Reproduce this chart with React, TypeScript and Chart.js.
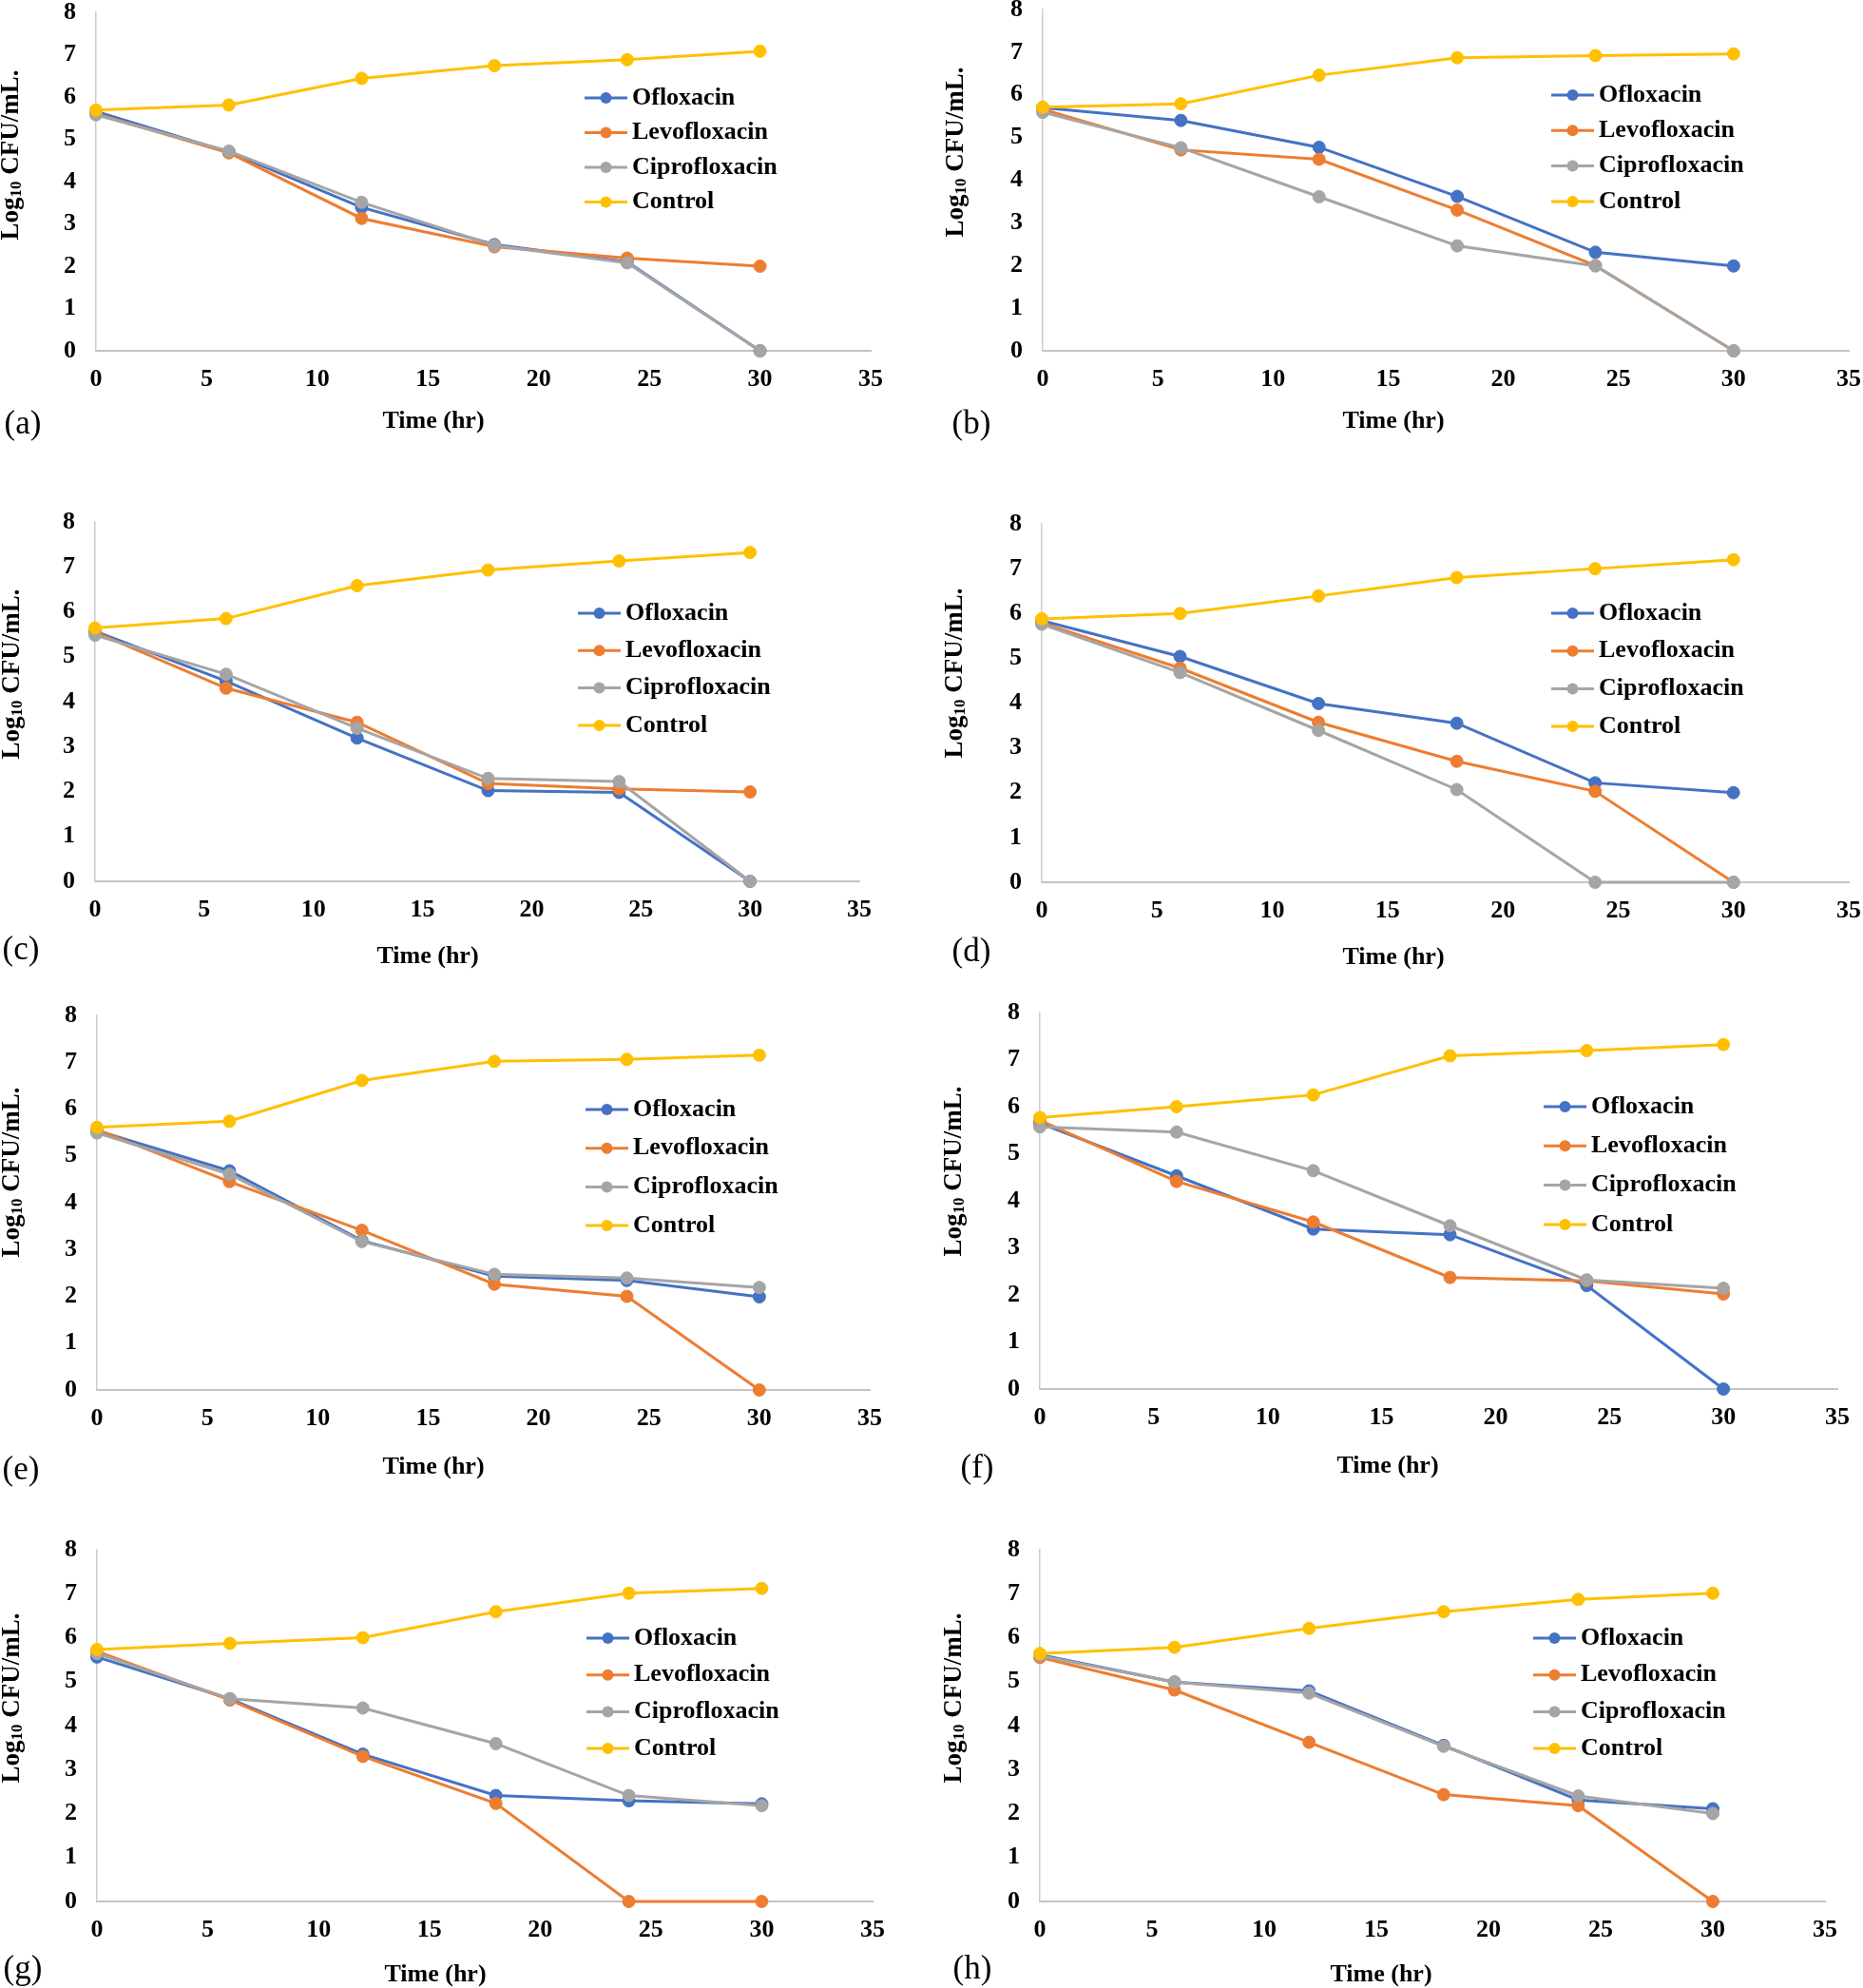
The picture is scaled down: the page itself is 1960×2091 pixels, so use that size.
import React, { useEffect, useRef } from "react";
import { Chart, registerables } from "chart.js";
Chart.register(...registerables);

// ---------- data ----------
const times = [0, 6, 12, 18, 24, 30];
const seriesNames = ["Ofloxacin", "Levofloxacin", "Ciprofloxacin", "Control"];
const seriesColors = ["#4472C4", "#ED7D31", "#A5A5A5", "#FFC000"];
const panelLabels = ["(a)", "(b)", "(c)", "(d)", "(e)", "(f)", "(g)", "(h)"];
const xAxisTitle = "Time (hr)";
const xMin = 0, xMax = 35, xStep = 5;
const yMin = 0, yMax = 8, yStep = 1;

const a_oflox = [5.66, 4.70, 3.39, 2.51, 2.10, 0];
const a_levo = [5.60, 4.68, 3.13, 2.46, 2.19, 2.00];
const a_cipro = [5.58, 4.72, 3.51, 2.49, 2.08, 0];
const a_ctrl = [5.69, 5.81, 6.44, 6.74, 6.88, 7.08];

const b_oflox = [5.70, 5.40, 4.77, 3.62, 2.31, 1.99];
const b_levo = [5.66, 4.71, 4.49, 3.30, 2.00, 0];
const b_cipro = [5.59, 4.76, 3.61, 2.46, 1.99, 0];
const b_ctrl = [5.71, 5.79, 6.46, 6.87, 6.92, 6.96];

const c_oflox = [5.57, 4.46, 3.19, 2.02, 1.98, 0];
const c_levo = [5.55, 4.30, 3.54, 2.18, 2.06, 1.99];
const c_cipro = [5.48, 4.61, 3.41, 2.29, 2.22, 0];
const c_ctrl = [5.64, 5.85, 6.58, 6.93, 7.13, 7.32];

const d_oflox = [5.84, 5.04, 3.99, 3.55, 2.22, 2.00];
const d_levo = [5.79, 4.78, 3.57, 2.70, 2.03, 0];
const d_cipro = [5.76, 4.68, 3.39, 2.07, 0, 0];
const d_ctrl = [5.88, 6.00, 6.39, 6.80, 7.00, 7.20];

const e_oflox = [5.54, 4.68, 3.19, 2.43, 2.34, 1.99];
const e_levo = [5.56, 4.45, 3.41, 2.26, 2.00, 0];
const e_cipro = [5.49, 4.61, 3.17, 2.47, 2.39, 2.19];
const e_ctrl = [5.61, 5.74, 6.61, 7.02, 7.06, 7.15];

const f_oflox = [5.65, 4.53, 3.40, 3.28, 2.20, 0];
const f_levo = [5.71, 4.41, 3.55, 2.37, 2.30, 2.02];
const f_cipro = [5.57, 5.46, 4.64, 3.47, 2.32, 2.14];
const f_ctrl = [5.77, 6.00, 6.25, 7.08, 7.19, 7.32];

const g_oflox = [5.56, 4.61, 3.35, 2.41, 2.29, 2.22];
const g_levo = [5.69, 4.58, 3.30, 2.23, 0, 0];
const g_cipro = [5.64, 4.61, 4.40, 3.59, 2.41, 2.18];
const g_ctrl = [5.73, 5.87, 6.00, 6.59, 7.01, 7.12];

const h_oflox = [5.61, 4.99, 4.79, 3.55, 2.31, 2.11];
const h_levo = [5.55, 4.81, 3.62, 2.43, 2.18, 0];
const h_cipro = [5.59, 4.99, 4.74, 3.53, 2.40, 2.00];
const h_ctrl = [5.64, 5.78, 6.21, 6.59, 6.87, 7.01];

const panelSeries = [
  [a_oflox, a_levo, a_cipro, a_ctrl],
  [b_oflox, b_levo, b_cipro, b_ctrl],
  [c_oflox, c_levo, c_cipro, c_ctrl],
  [d_oflox, d_levo, d_cipro, d_ctrl],
  [e_oflox, e_levo, e_cipro, e_ctrl],
  [f_oflox, f_levo, f_cipro, f_ctrl],
  [g_oflox, g_levo, g_cipro, g_ctrl],
  [h_oflox, h_levo, h_cipro, h_ctrl],
];

// ---------- layout (page pixels) ----------
type Cell = {
  cx: number; cy: number; cw: number; ch: number;
  plot: [number, number, number, number]; // left, right, top, bottom
  lab: [number, number]; tt: [number, number]; yt: [number, number];
  leg: [number, number, number];
};
const cells: Cell[] = [
  { cx: 0, cy: 0, cw: 980, ch: 490, plot: [101, 916, 13, 369], lab: [24, 447], tt: [456, 443], yt: [12, 163], leg: [615, 103, 36.5] },
  { cx: 980, cy: 0, cw: 980, ch: 490, plot: [1097, 1945, 10, 369], lab: [1022, 447], tt: [1466, 443], yt: [1006, 160], leg: [1632, 100, 37.3] },
  { cx: 0, cy: 490, cw: 980, ch: 540, plot: [100, 904, 549, 927], lab: [22, 1000], tt: [450, 1006], yt: [13, 709], leg: [608, 645, 39.3] },
  { cx: 980, cy: 490, cw: 980, ch: 540, plot: [1096, 1945, 551, 928], lab: [1022, 1002], tt: [1466, 1007], yt: [1005, 708], leg: [1632, 645, 39.7] },
  { cx: 0, cy: 1030, cw: 980, ch: 550, plot: [102, 915, 1068, 1462], lab: [22, 1547], tt: [456, 1543], yt: [13, 1233], leg: [616, 1167, 40.7] },
  { cx: 980, cy: 1030, cw: 980, ch: 550, plot: [1094, 1933, 1065, 1461], lab: [1028, 1545], tt: [1460, 1542], yt: [1004, 1232], leg: [1624, 1164, 41.3] },
  { cx: 0, cy: 1580, cw: 980, ch: 511, plot: [102, 918, 1630, 2000], lab: [24, 2072], tt: [458, 2077], yt: [13, 1786], leg: [617, 1723, 38.7] },
  { cx: 980, cy: 1580, cw: 980, ch: 511, plot: [1094, 1920, 1630, 2000], lab: [1023, 2072], tt: [1453, 2077], yt: [1004, 1786], leg: [1613, 1723, 38.7] },
];

const SERIF = '"Liberation Serif", "Times New Roman", serif';
const YW = 60;
const XH = 60;

function decorPlugin(cell: Cell, label: string) {
  return {
    id: "decor",
    afterDraw(chart: any) {
      const ctx = chart.ctx as CanvasRenderingContext2D;
      const ox = cell.cx, oy = cell.cy;
      ctx.save();
      ctx.fillStyle = "#000";
      // panel label
      ctx.font = `35px ${SERIF}`;
      ctx.textAlign = "center";
      ctx.textBaseline = "middle";
      ctx.fillText(label, cell.lab[0] - ox, cell.lab[1] - oy);
      // x title
      ctx.font = `bold 26px ${SERIF}`;
      ctx.fillText(xAxisTitle, cell.tt[0] - ox, cell.tt[1] - oy);
      // y title with subscript
      ctx.save();
      ctx.translate(cell.yt[0] - ox, cell.yt[1] - oy);
      ctx.rotate(-Math.PI / 2);
      const main = `bold 27px ${SERIF}`;
      const sub = `bold 17px ${SERIF}`;
      ctx.textAlign = "left";
      ctx.textBaseline = "middle";
      ctx.font = main;
      const w1 = ctx.measureText("Log").width;
      const w3 = ctx.measureText(" CFU/mL.").width;
      ctx.font = sub;
      const w2 = ctx.measureText("10").width;
      let x = -(w1 + w2 + w3) / 2;
      ctx.font = main;
      ctx.fillText("Log", x, 0);
      x += w1;
      ctx.font = sub;
      ctx.fillText("10", x, 6);
      x += w2;
      ctx.font = main;
      ctx.fillText(" CFU/mL.", x, 0);
      ctx.restore();
      // legend
      const [lx, ly, sp] = cell.leg;
      for (let i = 0; i < seriesNames.length; i++) {
        const y = ly + i * sp - oy;
        const x0 = lx - ox;
        ctx.strokeStyle = seriesColors[i];
        ctx.lineWidth = 3;
        ctx.beginPath();
        ctx.moveTo(x0, y);
        ctx.lineTo(x0 + 45, y);
        ctx.stroke();
        ctx.fillStyle = seriesColors[i];
        ctx.beginPath();
        ctx.arc(x0 + 22.5, y, 6, 0, Math.PI * 2);
        ctx.fill();
        ctx.fillStyle = "#000";
        ctx.font = `bold 26px ${SERIF}`;
        ctx.textAlign = "left";
        ctx.textBaseline = "middle";
        ctx.fillText(seriesNames[i], x0 + 50, y);
      }
      ctx.restore();
    },
  };
}

function Panel({ idx }: { idx: number }) {
  const ref = useRef<HTMLCanvasElement | null>(null);
  const cell = cells[idx];
  useEffect(() => {
    if (!ref.current) return;
    const [pl, pr, pt, pb] = cell.plot;
    const series = panelSeries[idx];
    const datasets = series.map((vals, i) => ({
      label: seriesNames[i],
      data: times.map((t, j) => ({ x: t, y: vals[j] })),
      borderColor: seriesColors[i],
      backgroundColor: seriesColors[i],
      borderWidth: 3,
      pointRadius: 6.5,
      pointHoverRadius: 6.5,
      pointBorderWidth: 1,
      pointBackgroundColor: seriesColors[i],
      pointBorderColor: seriesColors[i],
      tension: 0,
      clip: false as any,
      order: seriesNames.length - i,
    }));
    const tickFont = { family: SERIF, size: 26, weight: "bold" as any };
    const zeroPad = (s: any) => {
      s.paddingLeft = 0; s.paddingRight = 0; s.paddingTop = 0; s.paddingBottom = 0;
    };
    const chart = new Chart(ref.current, {
      type: "line",
      data: { datasets },
      plugins: [decorPlugin(cell, panelLabels[idx])],
      options: {
        responsive: false,
        maintainAspectRatio: false,
        animation: false,
        events: [],
        layout: {
          padding: {
            left: pl - cell.cx - YW,
            right: cell.cx + cell.cw - pr,
            top: pt - cell.cy,
            bottom: cell.cy + cell.ch - pb - XH,
          },
        },
        plugins: { legend: { display: false }, tooltip: { enabled: false }, title: { display: false } },
        scales: {
          x: {
            type: "linear",
            min: xMin,
            max: xMax,
            ticks: { stepSize: xStep, font: tickFont, color: "#000", padding: 15, maxRotation: 0, autoSkip: false },
            grid: { display: false, drawTicks: false },
            border: { display: true, color: "#c4c4c4", width: 2 },
            afterFit: (s: any) => { s.height = XH; zeroPad(s); },
          },
          y: {
            type: "linear",
            min: yMin,
            max: yMax,
            ticks: { stepSize: yStep, font: tickFont, color: "#000", padding: 21 },
            grid: { display: false, drawTicks: false },
            border: { display: true, color: "#cccccc", width: 1.5 },
            afterFit: (s: any) => { s.width = YW; zeroPad(s); },
          },
        },
      },
    });
    return () => chart.destroy();
  }, [idx]);
  return (
    <canvas
      ref={ref}
      width={cell.cw}
      height={cell.ch}
      style={{ position: "absolute", left: cell.cx, top: cell.cy, width: cell.cw, height: cell.ch }}
    />
  );
}

export default function App() {
  return (
    <div style={{ position: "absolute", left: 0, top: 0, width: 1960, height: 2091, background: "#fff", overflow: "hidden" }}>
      {cells.map((_, i) => (
        <Panel key={i} idx={i} />
      ))}
    </div>
  );
}
